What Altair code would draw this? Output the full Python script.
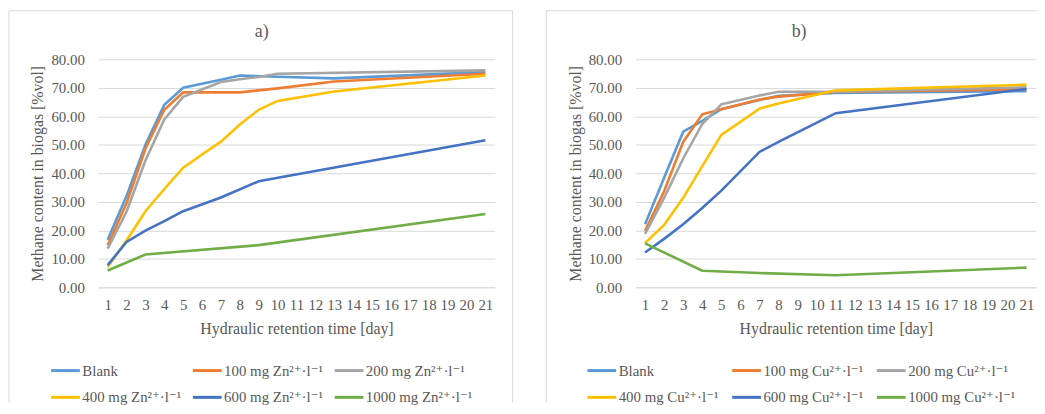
import altair as alt
import pandas as pd

# ---------------- data ----------------
DAY_TICKS = list(range(1, 22))
Y_TICKS = [0, 10, 20, 30, 40, 50, 60, 70, 80]
DOSES = [None, 100, 200, 400, 600, 1000]
COLORS = ["#5B9BD5", "#ED7D31", "#A5A5A5", "#FFC000", "#4472C4", "#70AD47"]

# a) Zn
zn_blank_days = [1, 2, 3, 4, 5, 7, 8, 10, 13, 21]
zn_blank = [16.7, 32.0, 50.0, 64.0, 70.0, 72.8, 74.3, 73.9, 73.3, 75.5]
zn_100_days = [1, 2, 3, 4, 5, 8, 10, 13, 21]
zn_100 = [14.8, 29.5, 48.6, 62.3, 68.4, 68.4, 69.8, 72.2, 74.9]
zn_200_days = [1, 2, 3, 4, 5, 7, 8, 9, 10, 21]
zn_200 = [13.6, 26.5, 44.5, 58.9, 66.8, 72.0, 73.0, 73.8, 74.9, 76.1]
zn_400_days = [1, 2, 3, 4, 5, 6, 7, 8, 9, 10, 13, 21]
zn_400 = [7.1, 16.4, 26.7, 34.5, 42.0, 46.6, 51.1, 57.1, 62.3, 65.4, 68.7, 74.3]
zn_600_days = [1, 2, 3, 4, 5, 7, 9, 21]
zn_600 = [7.8, 15.9, 19.9, 23.2, 26.7, 31.5, 37.2, 51.6]
zn_1000_days = [1, 3, 9, 21]
zn_1000 = [5.9, 11.5, 14.8, 25.7]

# b) Cu
cu_blank_days = [1, 2, 3, 4, 5, 7, 8, 11, 21]
cu_blank = [22.1, 38.4, 54.6, 58.4, 62.5, 65.7, 67.2, 68.2, 68.8]
cu_100_days = [1, 2, 3, 4, 5, 7, 8, 11, 21]
cu_100 = [19.8, 33.7, 51.0, 60.7, 62.5, 65.9, 66.9, 68.5, 69.5]
cu_200_days = [1, 2, 3, 4, 5, 7, 8, 11, 21]
cu_200 = [18.7, 31.4, 45.2, 57.3, 64.2, 67.3, 68.6, 68.6, 70.2]
cu_400_days = [1, 2, 3, 4, 5, 7, 8, 11, 21]
cu_400 = [15.5, 21.9, 31.4, 42.5, 53.5, 62.7, 64.5, 69.1, 71.1]
cu_600_days = [1, 2, 3, 4, 5, 7, 8, 11, 21]
cu_600 = [12.2, 17.0, 22.1, 27.8, 33.9, 47.5, 51.0, 61.1, 69.6]
cu_1000_days = [1, 4, 7, 11, 21]
cu_1000 = [15.4, 5.8, 5.0, 4.2, 6.9]

FONT = "'Liberation Serif', 'Times New Roman', 'DejaVu Serif', serif"
GREY = "#595959"
GRID = "#D9D9D9"


def label(metal, dose):
    return "Blank" if dose is None else f"{dose} mg {metal}\u00b2\u207a\u00b7l\u207b\u00b9"


def panel(metal, heading, series, width, legend_x, col_pad, right_edge):
    rows = []
    order = []
    for dose, (days, vals) in zip(DOSES, series):
        lab = label(metal, dose)
        order.append(lab)
        for d, v in zip(days, vals):
            rows.append({"day": d, "ch4": v, "series": lab})
    df = pd.DataFrame(rows)

    lines = alt.Chart(df).mark_line(strokeWidth=2.6).encode(
        x=alt.X(
            "day:Q",
            scale=alt.Scale(domain=[0.5, 21.5], nice=False, zero=False),
            axis=alt.Axis(
                values=DAY_TICKS, title="Hydraulic retention time [day]", grid=False,
                ticks=False, domain=True, domainColor=GRID, domainWidth=1,
                labelFont=FONT, labelFontSize=15, labelColor=GREY, labelPadding=10,
                titleFont=FONT, titleFontSize=16, titleColor=GREY, titleFontWeight="normal",
                titlePadding=9, labelFlush=False,
            ),
        ),
        y=alt.Y(
            "ch4:Q",
            scale=alt.Scale(domain=[0, 80], nice=False),
            axis=alt.Axis(
                values=Y_TICKS, format=".2f", title="Methane content in biogas [%vol]",
                grid=True, gridColor=GRID, gridWidth=1, ticks=False, domain=False,
                labelFont=FONT, labelFontSize=15, labelColor=GREY, labelPadding=14,
                titleFont=FONT, titleFontSize=16, titleColor=GREY, titleFontWeight="normal",
                titlePadding=5,
            ),
        ),
        color=alt.Color(
            "series:N",
            scale=alt.Scale(domain=order, range=COLORS),
            legend=alt.Legend(
                title=None, orient="none", direction="horizontal",
                legendX=legend_x, legendY=298, columns=3,
                symbolType="stroke", symbolSize=841, symbolStrokeWidth=3,
                labelFont=FONT, labelFontSize=15, labelColor=GREY, labelOffset=1,
                columnPadding=col_pad, rowPadding=3, padding=0, labelLimit=300,
            ),
        ),
    )

    # panel frame (left, top and, if visible, right edge)
    one = alt.Data(values=[{"b": 1}])
    frame = [
        alt.Chart(one).mark_rule(color=GRID, strokeWidth=1).encode(
            x=alt.value(-90), y=alt.value(-49), y2=alt.value(346)),
        alt.Chart(one).mark_rule(color=GRID, strokeWidth=1).encode(
            x=alt.value(-90), x2=alt.value(right_edge), y=alt.value(-49)),
    ]
    if right_edge > width:
        frame.append(alt.Chart(one).mark_rule(color=GRID, strokeWidth=1).encode(
            x=alt.value(right_edge), y=alt.value(-49), y2=alt.value(346)))

    head = alt.Chart(alt.Data(values=[{"t": heading}])).mark_text(
        font=FONT, fontSize=18, color=GREY, align="center", baseline="middle"
    ).encode(
        text="t:N", x=alt.value(165), y=alt.value(-27),
    )

    return alt.layer(*frame, lines, head).properties(width=width, height=230)


left = panel("Zn", "a)", [
    (zn_blank_days, zn_blank), (zn_100_days, zn_100), (zn_200_days, zn_200),
    (zn_400_days, zn_400), (zn_600_days, zn_600), (zn_1000_days, zn_1000),
], 400, -49, 5, 418)
right = panel("Cu", "b)", [
    (cu_blank_days, cu_blank), (cu_100_days, cu_100), (cu_200_days, cu_200),
    (cu_400_days, cu_400), (cu_600_days, cu_600), (cu_1000_days, cu_1000),
], 404, -50, 7, 404)

chart = alt.hconcat(left, right, spacing=32).resolve_scale(
    color="independent"
).resolve_legend(color="independent").properties(
    padding={"left": 0, "top": 0, "right": 0, "bottom": 0},
    background="white",
).configure(font=FONT).configure_view(stroke=None)

chart.save("out.html", embed_options={"renderer": "svg", "actions": False})
